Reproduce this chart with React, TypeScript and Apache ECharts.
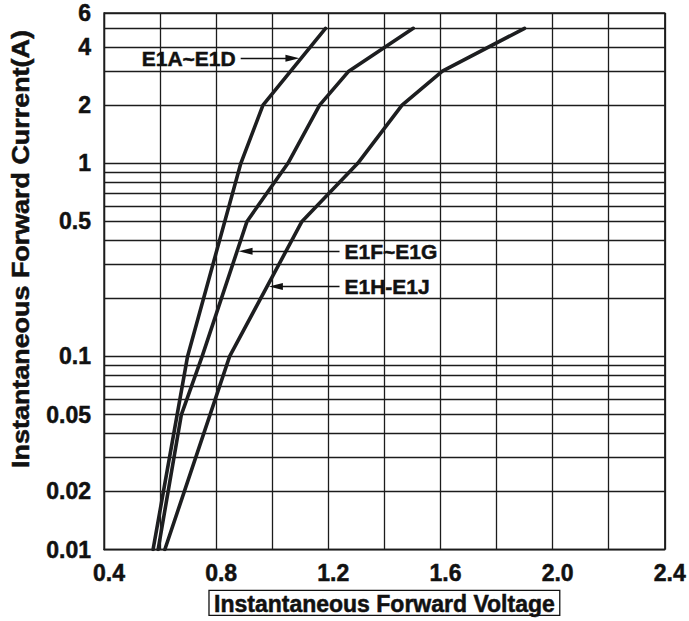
import React, { useEffect, useRef } from "react";
import * as echarts from "echarts";

// ---- Data ----
const xTickLabels = ["0.4", "0.8", "1.2", "1.6", "2.0", "2.4"];
const yGridValues = [
  0.01, 0.02, 0.03, 0.04, 0.05, 0.06, 0.07, 0.08, 0.09,
  0.1, 0.2, 0.3, 0.4, 0.5, 0.6, 0.7, 0.8, 0.9,
  1, 2, 3, 4, 5, 6,
];
const yTickLabels = ["0.01", "0.02", "0.05", "0.1", "0.5", "1", "2", "4", "6"];

const seriesNames = ["E1A~E1D", "E1F~E1G", "E1H-E1J"];

const voltageE1A = [0.575, 0.698, 0.888, 0.967, 1.19];
const currentE1A = [0.01, 0.1, 1, 2, 5];

const voltageE1F = [0.593, 0.676, 0.75, 0.91, 1.056, 1.169, 1.273, 1.503];
const currentE1F = [0.01, 0.05, 0.1, 0.5, 1, 2, 3, 5];

const voltageE1H = [0.617, 0.848, 1.106, 1.305, 1.463, 1.607, 1.9];
const currentE1H = [0.01, 0.1, 0.5, 1, 2, 3, 5];

// annotation arrows (data coordinates): [from, to]
const arrowE1A = [[0.8875, 3.5], [1.072, 3.5]];
const arrowE1F = [[1.24, 0.35], [0.905, 0.35]];
const arrowE1H = [[1.24, 0.23], [1.013, 0.23]];

const FONT = "'Liberation Sans', Arial, Helvetica, sans-serif";
const INK = "#111111";
const GRID_INK = "#1c1c1c";

function curveSeries(name: string, xs: number[], ys: number[], arrow: number[][]) {
  return {
    type: "line",
    name,
    data: xs.map((v, i) => [v, ys[i]]),
    showSymbol: false,
    symbol: "none",
    z: 3,
    lineStyle: { color: "#1d1e20", width: 3.6, cap: "round", join: "round" },
    emphasis: { disabled: true },
    markLine: {
      silent: true,
      animation: false,
      symbol: ["none", "triangle"],
      lineStyle: { color: INK, width: 1.3, type: "solid" },
      emphasis: { disabled: true },
      label: {
        show: true,
        position: "start",
        distance: 5,
        formatter: name,
        fontSize: 21,
        fontWeight: "bold",
        fontFamily: FONT,
        color: INK,
        textBorderColor: INK,
        textBorderWidth: 0.5,
      },
      data: [
        [
          { coord: arrow[0], symbol: "none" },
          { coord: arrow[1], symbol: "triangle", symbolSize: [7, 14] },
        ],
      ],
    },
  };
}

export default function App() {
  const ref = useRef<HTMLDivElement>(null);

  useEffect(() => {
    if (!ref.current) return;
    const chart = echarts.init(ref.current, undefined, { renderer: "svg" });

    const gridLineData = yGridValues.map((v) => {
      const txt = String(v);
      const labelled = yTickLabels.indexOf(txt) >= 0;
      return {
        yAxis: v,
        label: labelled
          ? {
              show: true,
              position: "start",
              distance: 13,
              formatter: txt,
              fontSize: 23,
              fontWeight: "bold",
              fontFamily: FONT,
              color: INK,
              textBorderColor: INK,
              textBorderWidth: 0.5,
            }
          : { show: false },
      };
    });

    chart.setOption({
      animation: false,
      backgroundColor: "#ffffff",
      grid: {
        left: 104,
        top: 13,
        width: 562,
        height: 540,
        show: true,
        borderColor: GRID_INK,
        borderWidth: 1.3,
        backgroundColor: "transparent",
      },
      xAxis: {
        type: "value",
        min: 0.4,
        max: 2.4,
        interval: 0.2,
        axisLine: { show: true, lineStyle: { color: GRID_INK, width: 1.3 } },
        axisTick: { show: false },
        splitLine: { show: true, lineStyle: { color: GRID_INK, width: 1.3 } },
        axisLabel: {
          margin: 12,
          fontSize: 23,
          fontWeight: "bold",
          fontFamily: FONT,
          color: INK,
          textBorderColor: INK,
          textBorderWidth: 0.5,
          padding: [0, 0, 0, 10],
          formatter: (v: number) => {
            const s = v.toFixed(1);
            return xTickLabels.indexOf(s) >= 0 ? s : "";
          },
        },
        name: "Instantaneous Forward Voltage",
        nameLocation: "middle",
        nameGap: 38,
        nameTextStyle: {
          fontSize: 23,
          fontWeight: "bold",
          fontFamily: FONT,
          color: INK,
          textBorderColor: INK,
          textBorderWidth: 0.5,
          borderColor: INK,
          borderWidth: 1.3,
          padding: [2, 5, 0, 5],
        },
      },
      yAxis: {
        type: "log",
        logBase: 10,
        min: 0.01,
        max: 6,
        axisLine: { show: true, lineStyle: { color: GRID_INK, width: 1.3 } },
        axisTick: { show: false },
        axisLabel: { show: false },
        splitLine: { show: false },
        minorSplitLine: { show: false },
      },
      graphic: [
        {
          type: "text",
          x: 21,
          y: 249,
          rotation: Math.PI / 2,
          scaleX: 1.17,
          style: {
            text: "Instantaneous Forward Current(A)",
            fontSize: 23,
            fontWeight: "bold",
            fontFamily: FONT,
            fill: INK,
            stroke: INK,
            lineWidth: 0.5,
            textAlign: "center",
            textVerticalAlign: "middle",
          },
        },
      ],
      series: [
        {
          type: "line",
          name: "grid",
          data: [],
          silent: true,
          z: 1,
          markLine: {
            silent: true,
            animation: false,
            symbol: ["none", "none"],
            lineStyle: { color: GRID_INK, width: 1.3, type: "solid" },
            emphasis: { disabled: true },
            label: { show: false },
            data: gridLineData,
          },
        },
        curveSeries(seriesNames[0], voltageE1A, currentE1A, arrowE1A),
        curveSeries(seriesNames[1], voltageE1F, currentE1F, arrowE1F),
        curveSeries(seriesNames[2], voltageE1H, currentE1H, arrowE1H),
      ],
    });

    return () => chart.dispose();
  }, []);

  return (
    <div
      ref={ref}
      style={{ position: "fixed", left: 0, top: 0, width: 689, height: 621, background: "#fff" }}
    />
  );
}
